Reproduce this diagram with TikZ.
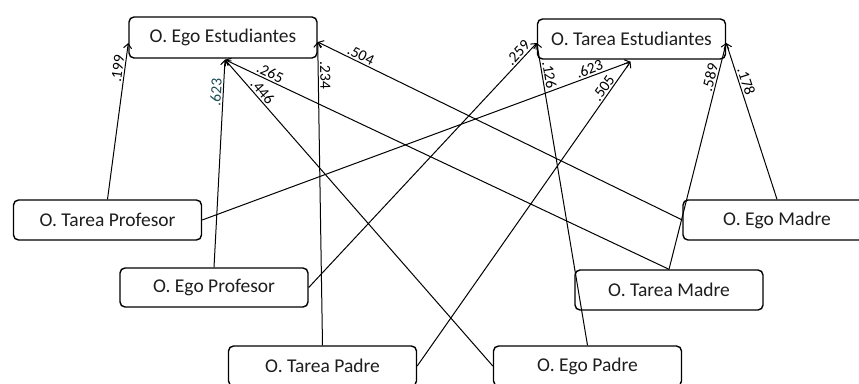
\documentclass[tikz,border=0pt]{standalone}
\usepackage{fontspec}
\setmainfont{Carlito}
\usetikzlibrary{arrows.meta}
\definecolor{boxtext}{RGB}{30,30,30}
\definecolor{tealnum}{RGB}{30,75,85}
\tikzset{
  var/.style={draw=black, line width=1.4pt, rounded corners=5pt, fill=white,
    minimum width=188pt, minimum height=40pt, inner sep=0pt,
    font=\fontsize{19.5}{21}\selectfont, text=boxtext},
  path/.style={line width=1pt, -{Straight Barb[length=4.5pt,width=8pt]}},
  coef/.style={sloped, font=\fontsize{15.5}{15.5}\selectfont, inner sep=1.5pt}
}
\begin{document}
\begin{tikzpicture}[x=1pt,y=-1pt]
\useasboundingbox (0,0) rectangle (859,383);
\clip (0,0) rectangle (859,383);
\fill[white] (0,0) rectangle (859,383);
% nodes
\node[var, minimum height=41pt] (EE) at (223,37.5) {O. Ego Estudiantes};
\node[var] (TE) at (631.5,39) {O. Tarea Estudiantes};
\node[var] (TP) at (107.5,220) {O. Tarea Profesor};
\node[var, minimum height=39pt] (EP) at (214,287.5) {O. Ego Profesor};
\node[var] (TPa) at (322.5,366) {O. Tarea Padre};
\node[var] (EM) at (777,220) {O. Ego Madre};
\node[var] (TM) at (669,290) {O. Tarea Madre};
\node[var] (EPa) at (587.5,366) {O. Ego Padre};
% target points
\coordinate (EEl) at ([yshift=-5.5pt]EE.west);
\coordinate (EEb) at ([xshift=2pt,yshift=-1pt]EE.south);
\coordinate (EEr) at ([yshift=-4.5pt]EE.east);
\coordinate (TEl) at ([yshift=-4pt]TE.west);
\coordinate (TEb) at ([xshift=-1pt,yshift=-2pt]TE.south);
\coordinate (TEr) at ([yshift=-4pt]TE.east);
% paths to Ego Estudiantes
\draw[path] (TP.north) -- node[coef, pos=0.83, above] {.199} (EEl);
\draw[path] (EP.north) -- node[coef, pos=0.84, above, text=tealnum] {.623} (EEb);
\draw[path] (TM.north) -- node[coef, pos=0.905, above] {.265} (EEb);
\draw[path] (EPa.west) -- node[coef, pos=0.88, above] {.446} (EEb);
\draw[path] (TPa.north) -- node[coef, pos=0.89, above] {.234} (EEr);
\draw[path] (EM.west) -- node[coef, pos=0.89, above] {.504} (EEr);
% paths to Tarea Estudiantes
\draw[path] (EP.east) -- node[coef, pos=0.94, above] {.259} (TEl);
\draw[path] (TP.east) -- node[coef, pos=0.91, above] {.623} (TEb);
\draw[path] (TPa.east) -- node[coef, pos=0.9, above] {.505} (TEb);
\draw[path] (EPa.north) -- node[coef, pos=0.89, above] {.126} (TEl);
\draw[path] (TM.north) -- node[coef, pos=0.84, above] {.589} (TEr);
\draw[path] (EM.north) -- node[coef, pos=0.74, above] {.178} (TEr);
\end{tikzpicture}
\end{document}
